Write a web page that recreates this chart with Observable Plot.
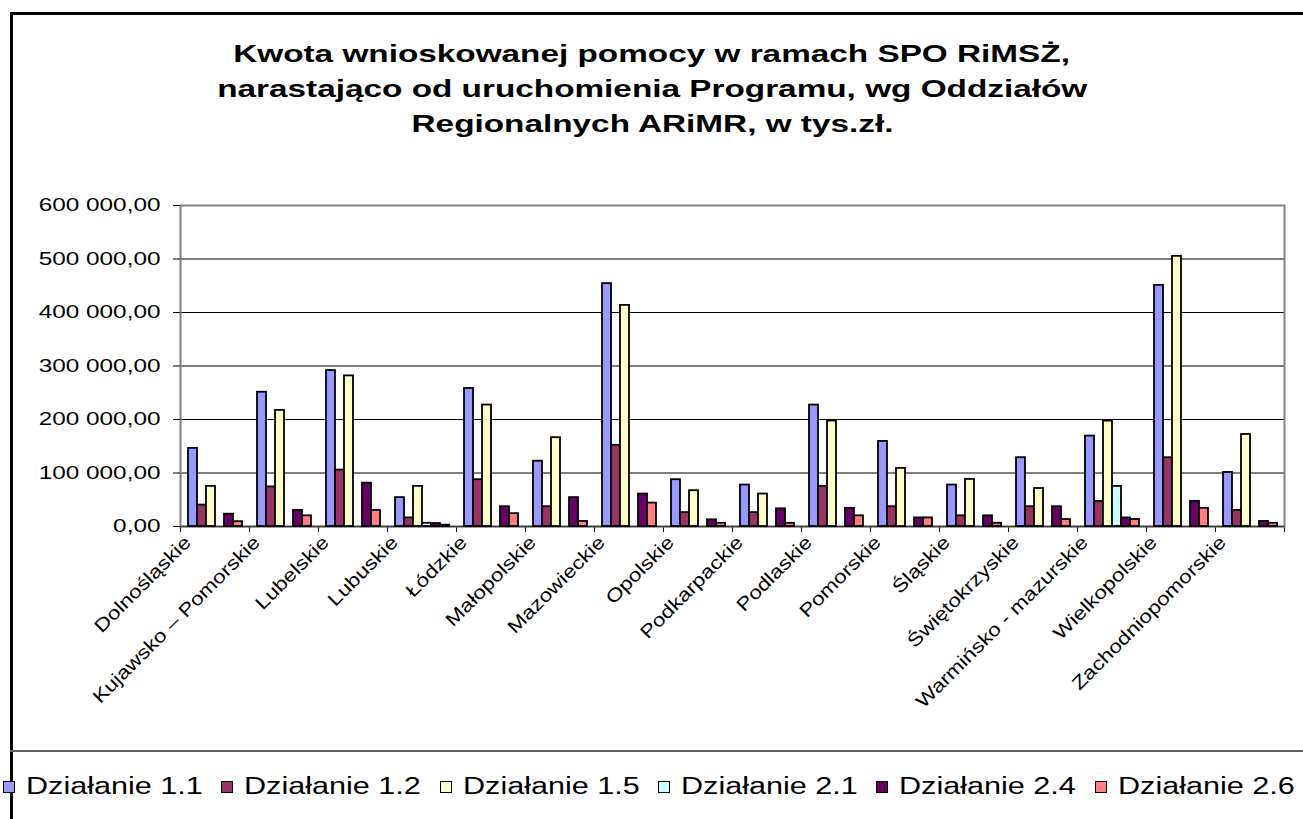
<!DOCTYPE html>
<html><head><meta charset="utf-8">
<script src="https://cdn.jsdelivr.net/npm/d3@7"></script>
<script src="https://cdn.jsdelivr.net/npm/@observablehq/plot@0.6"></script>
<style>
body{margin:0;background:#fff;font-family:Arial,"Liberation Sans",sans-serif;}
#wrap{position:relative;width:1303px;height:819px;overflow:hidden;background:#fff;}
#border{position:absolute;left:10px;top:12px;width:1400px;height:900px;border-left:3px solid #000;border-top:3px solid #000;box-sizing:border-box;}
#title{position:absolute;left:0;top:37px;width:1304px;text-align:center;font-weight:bold;font-size:23.3px;line-height:35px;color:#000;}
#title span{display:inline-block;transform:scaleX(1.43);transform-origin:center;white-space:nowrap;}
#bg,#fg{position:absolute;left:0;top:150px;}
#legendLine{position:absolute;left:10px;top:750px;width:1300px;border-top:2px solid #606060;}
#legend{position:absolute;left:0;top:772px;height:28px;font-size:23px;line-height:28px;color:#000;}
.item{position:absolute;top:0;white-space:nowrap;}
.sw{position:absolute;top:9px;width:10px;height:10px;border:1px solid #000;}
.lt{position:absolute;left:23px;top:0;display:inline-block;transform:scaleX(1.33);transform-origin:left center;}
</style></head><body>
<div id="wrap">
  <div id="border"></div>
  <div id="title"></div>
  <div id="bg"></div>
  <div id="fg"></div>
  <div id="legendLine"></div>
  <div id="legend"></div>
</div>
<script>
const titleLines = [
  "Kwota wnioskowanej pomocy w ramach SPO RiMSŻ,",
  "narastająco od uruchomienia Programu, wg Oddziałów",
  "Regionalnych ARiMR, w tys.zł."
];
const regions = ["Dolnośląskie","Kujawsko – Pomorskie","Lubelskie","Lubuskie","Łódzkie","Małopolskie","Mazowieckie","Opolskie","Podkarpackie","Podlaskie","Pomorskie","Śląskie","Świętokrzyskie","Warmińsko - mazurskie","Wielkopolskie","Zachodniopomorskie"];
const series = ["Działanie 1.1","Działanie 1.2","Działanie 1.5","Działanie 2.1","Działanie 2.4","Działanie 2.6"];
const colors = ["#9999FF","#993366","#FFFFCC","#CCFFFF","#660066","#FF8080"];
const d11 = [146000,251000,291500,54000,258000,122000,454000,87500,77500,227000,159000,77500,128600,169000,450700,101000];
const d12 = [40000,74000,105500,16000,87500,37000,151700,26000,26000,75000,37000,20000,37000,47000,128600,30000];
const d15 = [75000,217000,281500,75000,227000,166000,413300,66900,60700,197000,108600,88000,71000,197000,505000,172000];
const d21 = [0,0,0,6000,0,0,0,0,0,0,0,0,0,75000,0,0];
const d24 = [23000,30000,81000,5500,37000,54000,60700,12500,33000,34000,16000,20000,37000,16000,47000,9500];
const d26 = [9000,20000,30000,2500,24000,9500,43800,6000,6000,20000,16000,6000,13000,13000,34000,6000];
const yTicks = [0,100000,200000,300000,400000,500000,600000];

const values = [d11,d12,d15,d21,d24,d26];
const data = [];
regions.forEach((r,i)=>series.forEach((s,j)=>{ if(values[j][i]>0) data.push({region:r,series:s,value:values[j][i]}); }));

const fmt = d => d3.format(",.2f")(d).replace(/,/g," ").replace(".",",");

const T = document.getElementById("title");
titleLines.forEach(l=>{const dv=document.createElement("div");const sp=document.createElement("span");sp.textContent=l;dv.appendChild(sp);T.appendChild(dv);});

const W=1303,H=600,ML=180,MR=19,MT=55,MB=224;
const font = "Arial, 'Liberation Sans', sans-serif";

const bg = Plot.plot({
  width:W,height:H,marginLeft:ML,marginRight:MR,marginTop:MT,marginBottom:MB,
  style:{background:"transparent",fontFamily:font},
  x:{domain:[0,regions.length],ticks:d3.range(regions.length+1),tickFormat:()=>"",tickSize:6,label:null},
  y:{domain:[0,600000],axis:null},
  marks:[
    Plot.ruleY(yTicks.slice(1,-1),{stroke:"#000",strokeWidth:1}),
    Plot.frame({stroke:"#808080",strokeWidth:2}),
    Plot.ruleY([0],{stroke:"#404040",strokeWidth:1.5})
  ]
});
document.getElementById("bg").appendChild(bg);

const fg = Plot.plot({
  width:W,height:H,marginLeft:ML,marginRight:MR,marginTop:MT,marginBottom:MB,
  style:{background:"transparent",fontFamily:font,fontSize:"18.6px",color:"#000"},
  fx:{domain:regions,padding:0,axis:null,label:null},
  x:{domain:series,paddingInner:0,paddingOuter:0.73,axis:null},
  y:{domain:[0,600000],ticks:yTicks,tickFormat:fmt,tickSize:7,tickPadding:13,label:null},
  color:{domain:series,range:colors},
  marks:[
    Plot.barY(data,{fx:"region",x:"series",y:"value",fill:"series",stroke:"#000",strokeWidth:1.8}),
    Plot.text(regions,{fx:d=>d,text:d=>d,frameAnchor:"bottom",rotate:-45,textAnchor:"end",dx:-23,dy:17,fontSize:18.6,fill:"#000"})
  ]
});
document.getElementById("fg").appendChild(fg);

function stretch(el,k){
  const xa = el.getAttribute("x");
  let extra = "";
  if(xa!==null && !/em/.test(xa)){ extra = ` translate(${+xa},0)`; el.removeAttribute("x"); }
  el.setAttribute("transform",(el.getAttribute("transform")||"")+extra+` scale(${k},1)`);
}
fg.querySelectorAll('g[aria-label="y-axis tick label"] text').forEach(t=>stretch(t,1.31));
fg.querySelectorAll('g[aria-label="text"] text').forEach(t=>stretch(t,1.21));

const L = document.getElementById("legend");
series.forEach((s,j)=>{
  const it=document.createElement("div");it.className="item";it.style.left=(3+j*218.3)+"px";
  const sw=document.createElement("div");sw.className="sw";sw.style.background=colors[j];
  const lt=document.createElement("span");lt.className="lt";lt.textContent=s;
  it.appendChild(sw);it.appendChild(lt);L.appendChild(it);
});
</script>
</body></html>
